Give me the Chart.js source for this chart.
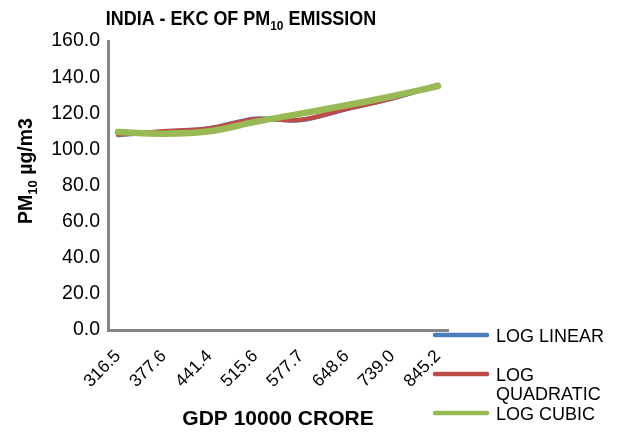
<!DOCTYPE html>
<html>
<head>
<meta charset="utf-8">
<script src="https://cdn.jsdelivr.net/npm/chart.js@4.4.1/dist/chart.umd.min.js"></script>
<style>
  html, body { margin: 0; padding: 0; background: #fff; }
  #wrap { width: 617px; height: 433px; }
</style>
</head>
<body>
<div id="wrap"><canvas id="ekc" width="617" height="433"></canvas></div>
<script>
// GDP (10000 crore) categories and fitted PM10 concentrations
const gdpLabels = ['316.5', '377.6', '441.4', '515.6', '577.7', '648.6', '739.0', '845.2'];
const logLinear    = [108.0, 109.8, 111.7, 117.0, 116.2, 122.3, 128.2, 135.5];
const logQuadratic = [108.2, 110.0, 111.5, 116.7, 116.4, 122.5, 128.3, 135.8];
const logCubic     = [109.6, 108.7, 110.0, 115.2, 119.8, 124.4, 129.4, 135.0];
const yTicks = [0, 20, 40, 60, 80, 100, 120, 140, 160];
const seriesNames = [['LOG LINEAR'], ['LOG', 'QUADRATIC'], ['LOG CUBIC']];
const seriesColors = ['#4A7EBB', '#BE4B48', '#98B954'];

const FONT = '"Liberation Sans", Arial, Helvetica, sans-serif';

// Draws a run of text pieces, some of them as subscripts, centred on cx
function drawRich(ctx, parts, cx, baseY, size, weight) {
  const subSize = Math.round(size * 0.68);
  let total = 0;
  for (const p of parts) {
    ctx.font = `${weight} ${p.sub ? subSize : size}px ${FONT}`;
    total += ctx.measureText(p.t).width;
  }
  let x = cx - total / 2;
  ctx.textAlign = 'left';
  ctx.textBaseline = 'alphabetic';
  for (const p of parts) {
    ctx.font = `${weight} ${p.sub ? subSize : size}px ${FONT}`;
    ctx.fillText(p.t, x, baseY + (p.sub ? size * 0.28 : 0));
    x += ctx.measureText(p.t).width;
  }
}

const decorations = {
  id: 'decorations',
  afterDraw(chart) {
    const ctx = chart.ctx;
    ctx.save();
    ctx.fillStyle = '#000';

    // chart title, set in a slightly condensed bold face
    ctx.save();
    ctx.translate(241, 24.5);
    ctx.scale(0.92, 1);
    drawRich(ctx, [{ t: 'INDIA - EKC OF PM' }, { t: '10', sub: true }, { t: ' EMISSION' }], 0, 0, 19.5, 'bold');
    ctx.restore();

    // x axis title
    drawRich(ctx, [{ t: 'GDP 10000 CRORE' }], 278, 425, 21, 'bold');

    // y axis title, rotated
    ctx.save();
    ctx.translate(32, 171);
    ctx.rotate(-Math.PI / 2);
    drawRich(ctx, [{ t: 'PM' }, { t: '10', sub: true }, { t: ' µg/m3' }], 0, 0, 19.5, 'bold');
    ctx.restore();

    // legend
    const rows = [335, 374, 413];
    const lineHeight = 19.5;
    chart.data.datasets.forEach((ds, i) => {
      const y = rows[i];
      ctx.strokeStyle = ds.borderColor;
      ctx.lineWidth = 4.5;
      ctx.lineCap = 'round';
      ctx.beginPath();
      ctx.moveTo(435, y);
      ctx.lineTo(487, y);
      ctx.stroke();
      ctx.fillStyle = '#000';
      ctx.font = `18px ${FONT}`;
      ctx.textAlign = 'left';
      ctx.textBaseline = 'alphabetic';
      seriesNames[i].forEach((line, k) => {
        ctx.fillText(line, 496, y + 6.5 + k * lineHeight);
      });
    });
    ctx.restore();
  }
};

const toPoints = arr => arr.map((v, i) => ({ x: i, y: v }));

new Chart(document.getElementById('ekc'), {
  type: 'line',
  data: {
    datasets: [
      { label: 'LOG LINEAR', data: toPoints(logLinear), borderColor: seriesColors[0], borderWidth: 4.5, order: 2 },
      { label: 'LOG QUADRATIC', data: toPoints(logQuadratic), borderColor: seriesColors[1], borderWidth: 4.5, order: 1 },
      { label: 'LOG CUBIC', data: toPoints(logCubic), borderColor: seriesColors[2], borderWidth: 6.5, order: 0 }
    ]
  },
  options: {
    responsive: false,
    animation: false,
    devicePixelRatio: 1,
    layout: { padding: { top: 41, right: 169, bottom: 0, left: 0 } },
    elements: {
      point: { radius: 0, hoverRadius: 0 },
      line: { tension: 0.35, borderCapStyle: 'round', borderJoinStyle: 'round', fill: false }
    },
    plugins: { legend: { display: false }, tooltip: { enabled: false }, title: { display: false } },
    scales: {
      x: {
        type: 'linear',
        min: -0.219,
        max: 7.219,
        afterBuildTicks: s => { s.ticks = gdpLabels.map((_, i) => ({ value: i })); },
        afterFit: s => { s.height = 103; },
        ticks: {
          autoSkip: false,
          minRotation: 45,
          maxRotation: 45,
          padding: 16,
          color: '#000',
          font: { family: FONT, size: 17.5 },
          callback: v => gdpLabels[v]
        },
        grid: { display: false, drawTicks: false },
        border: { display: true, color: '#868686', width: 3 }
      },
      y: {
        min: 0,
        max: 160,
        afterBuildTicks: s => { s.ticks = yTicks.map(v => ({ value: v })); },
        afterFit: s => { s.width = 108; },
        ticks: {
          padding: 8,
          color: '#000',
          font: { family: FONT, size: 19.5 },
          callback: v => v.toFixed(1)
        },
        grid: { display: false, drawTicks: false },
        border: { display: true, color: '#868686', width: 3 }
      }
    }
  },
  plugins: [decorations]
});
</script>
</body>
</html>
